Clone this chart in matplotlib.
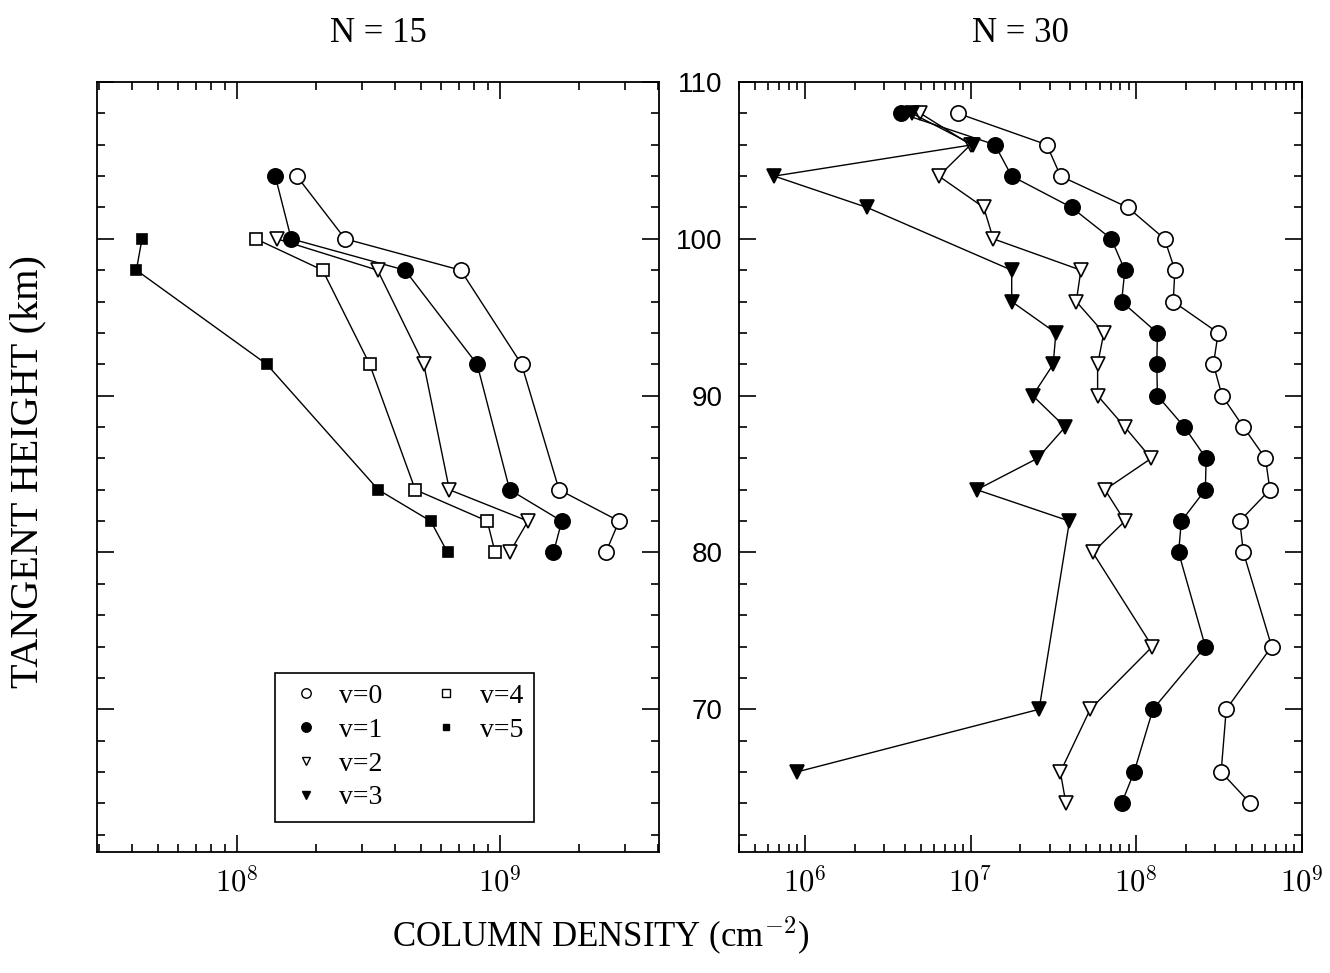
import matplotlib
matplotlib.use('Agg')
import matplotlib.pyplot as plt
from matplotlib.lines import Line2D
from matplotlib.ticker import LogLocator, FuncFormatter, NullFormatter, MultipleLocator
import numpy as np

plt.rcParams['font.family'] = ['Liberation Sans', 'DejaVu Sans']
plt.rcParams['mathtext.fontset'] = 'cm'

SERIF = ['Liberation Serif', 'DejaVu Serif']

# N = 15 panel (tangent height in km, column density in cm^-2)
h15_a = [104, 100, 98, 92, 84, 82, 80]
h15_b = [100, 98, 92, 84, 82, 80]
n15_v0 = [1.69e8, 2.58e8, 7.10e8, 1.21e9, 1.68e9, 2.84e9, 2.53e9]
n15_v1 = [1.40e8, 1.61e8, 4.36e8, 8.2e8, 1.09e9, 1.72e9, 1.60e9]
n15_v2 = [1.42e8, 3.43e8, 5.14e8, 6.43e8, 1.28e9, 1.09e9]
n15_v4 = [1.18e8, 2.12e8, 3.20e8, 4.77e8, 8.96e8, 9.6e8]
n15_v5 = [4.36e7, 4.15e7, 1.30e8, 3.45e8, 5.46e8, 6.33e8]

# N = 30 panel
h30 = [108, 106, 104, 102, 100, 98, 96, 94, 92, 90, 88, 86, 84, 82, 80, 74, 70, 66, 64]
h30_v3 = [108, 106, 104, 102, 98, 96, 94, 92, 90, 88, 86, 84, 82, 70, 66]
n30_v0 = [8.39e6, 2.88e7, 3.49e7, 8.89e7, 1.48e8, 1.71e8, 1.67e8, 3.12e8, 2.92e8, 3.29e8,
          4.43e8, 6.02e8, 6.4e8, 4.21e8, 4.43e8, 6.56e8, 3.49e8, 3.25e8, 4.88e8]
n30_v1 = [3.79e6, 1.40e7, 1.77e7, 4.07e7, 7.06e7, 8.53e7, 8.15e7, 1.34e8, 1.33e8, 1.34e8,
          1.95e8, 2.64e8, 2.61e8, 1.87e8, 1.80e8, 2.61e8, 1.26e8, 9.7e7, 8.15e7]
n30_v2 = [4.98e6, 1.00e7, 6.43e6, 1.20e7, 1.37e7, 4.63e7, 4.34e7, 6.37e7, 5.84e7, 5.84e7,
          8.53e7, 1.23e8, 6.47e7, 8.53e7, 5.46e7, 1.25e8, 5.27e7, 3.48e7, 3.76e7]
n30_v3 = [4.43e6, 1.03e7, 6.53e5, 2.37e6, 1.77e7, 1.77e7, 3.27e7, 3.15e7, 2.37e7, 3.72e7,
          2.53e7, 1.09e7, 3.95e7, 2.59e7, 8.9e5]

labels = ['v=0', 'v=1', 'v=2', 'v=3', 'v=4', 'v=5']

# marker, fill colour, size per vibrational level
styles = {
    'v=0': ('o', 'white', 11),
    'v=1': ('o', 'black', 11),
    'v=2': ('v', 'white', 10),
    'v=3': ('v', 'black', 10),
    'v=4': ('s', 'white', 8.5),
    'v=5': ('s', 'black', 7.5),
}


def draw(ax, x, y, key):
    m, fc, ms = styles[key]
    ax.plot(x, y, color='black', lw=1.0, marker=m, ms=ms, mfc=fc, mec='black', mew=1.2)


def dec_label(v, pos):
    return r'$10^{%d}$' % int(round(np.log10(v)))


fig = plt.figure(figsize=(13.3, 9.73), dpi=100)
ax1 = fig.add_axes([97 / 1330, 1 - 852 / 973, 562 / 1330, 770 / 973])
ax2 = fig.add_axes([739 / 1330, 1 - 852 / 973, 563 / 1330, 770 / 973], sharey=ax1)

draw(ax1, n15_v0, h15_a, 'v=0')
draw(ax1, n15_v1, h15_a, 'v=1')
draw(ax1, n15_v2, h15_b, 'v=2')
draw(ax1, n15_v4, h15_b, 'v=4')
draw(ax1, n15_v5, h15_b, 'v=5')

draw(ax2, n30_v0, h30, 'v=0')
draw(ax2, n30_v1, h30, 'v=1')
draw(ax2, n30_v2, h30, 'v=2')
draw(ax2, n30_v3, h30_v3, 'v=3')

ax1.set_xlim(2.94e7, 4.03e9)
ax2.set_xlim(4.0e5, 1.0e9)
ax1.set_ylim(60.9, 110)

for ax in (ax1, ax2):
    ax.set_xscale('log')
    ax.xaxis.set_major_locator(LogLocator(base=10))
    ax.xaxis.set_minor_locator(LogLocator(base=10, subs=np.arange(2, 10)))
    ax.xaxis.set_major_formatter(FuncFormatter(dec_label))
    ax.xaxis.set_minor_formatter(NullFormatter())
    ax.yaxis.set_major_locator(MultipleLocator(10))
    ax.yaxis.set_minor_locator(MultipleLocator(2))
    ax.tick_params(which='both', direction='in', top=True, right=True, width=1.2)
    ax.tick_params(which='major', length=12)
    ax.tick_params(which='minor', length=6)
    ax.tick_params(axis='x', labelsize=22, pad=11)
    for s in ax.spines.values():
        s.set_linewidth(1.3)

ax1.tick_params(axis='y', labelleft=False)
ax2.tick_params(axis='y', labelleft=True, labelsize=20, pad=12)

ax1.set_title('N = 15', family=SERIF, fontsize=25, pad=29)
ax2.set_title('N = 30', family=SERIF, fontsize=25, pad=29)

fig.text(0.021, 0.515, 'TANGENT HEIGHT (km)', rotation=90, ha='center', va='center',
         family=SERIF, fontsize=29)
fig.text(0.452, 0.028, r'COLUMN DENSITY (cm$^{-2}$)', ha='center', va='baseline',
         family=SERIF, fontsize=25)

# legend: 4 entries in the first column, 2 in the second
handles = []
for key in labels:
    m, fc, ms = styles[key]
    handles.append(Line2D([], [], ls='none', marker=m, mfc=fc, mec='black', mew=1.0, ms=ms * 0.62))
blank = Line2D([], [], ls='none', marker='none')
leg = ax1.legend(handles + [blank, blank], labels + ['', ''], ncol=2, loc='upper left',
                 bbox_to_anchor=(0.317, 0.233), borderaxespad=0, fancybox=False,
                 edgecolor='black', framealpha=1, prop={'family': SERIF, 'size': 20},
                 handlelength=1.4, handletextpad=0.5, columnspacing=1.6,
                 labelspacing=0.3, borderpad=0.4)
leg.get_frame().set_linewidth(1.2)

fig.savefig('out.png', dpi=100)
